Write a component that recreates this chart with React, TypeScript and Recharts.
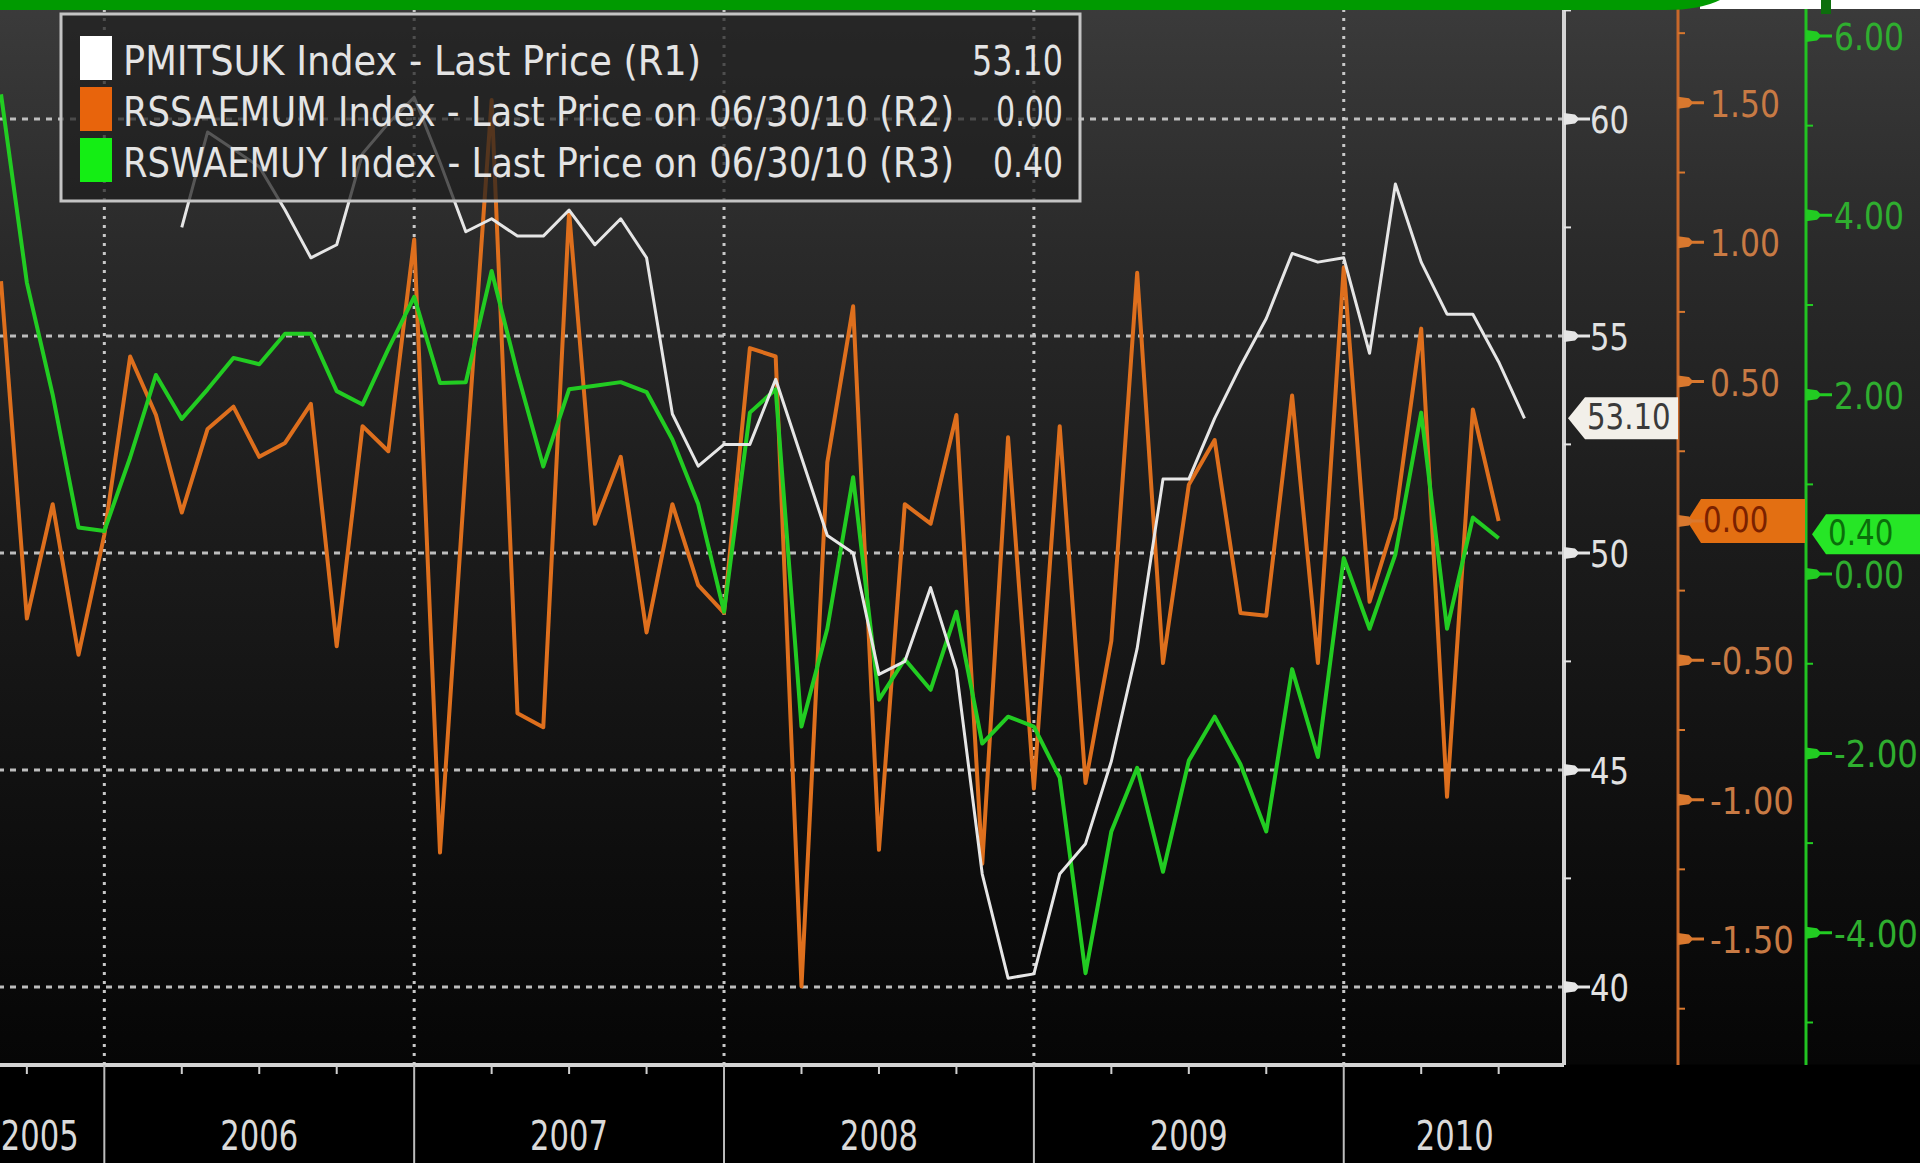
import { LineChart, Line, XAxis, YAxis, ReferenceLine, ReferenceDot } from "recharts";

// month-end observations, Aug 2005 .. Jul 2010
const months = [
  "2005-08", "2005-09", "2005-10", "2005-11", "2005-12",
  "2006-01", "2006-02", "2006-03", "2006-04", "2006-05", "2006-06", "2006-07", "2006-08", "2006-09", "2006-10", "2006-11", "2006-12",
  "2007-01", "2007-02", "2007-03", "2007-04", "2007-05", "2007-06", "2007-07", "2007-08", "2007-09", "2007-10", "2007-11", "2007-12",
  "2008-01", "2008-02", "2008-03", "2008-04", "2008-05", "2008-06", "2008-07", "2008-08", "2008-09", "2008-10", "2008-11", "2008-12",
  "2009-01", "2009-02", "2009-03", "2009-04", "2009-05", "2009-06", "2009-07", "2009-08", "2009-09", "2009-10", "2009-11", "2009-12",
  "2010-01", "2010-02", "2010-03", "2010-04", "2010-05", "2010-06", "2010-07",
];

// PMITSUK (R1)
const pmitsuk = [
  null, null, null, null, null,
  null, null, 57.5, 59.7, 59.3, 58.9, 57.9, 56.8, 57.1, 59.2, 59.9, 60.5,
  59.0, 57.4, 57.7, 57.3, 57.3, 57.9, 57.1, 57.7, 56.8, 53.2, 52.0, 52.5,
  52.5, 54.0, 52.2, 50.4, 50.0, 47.2, 47.5, 49.2, 47.3, 42.6, 40.2, 40.3,
  42.6, 43.3, 45.2, 47.8, 51.7, 51.7, 53.1, 54.3, 55.4, 56.9, 56.7, 56.8,
  54.6, 58.5, 56.7, 55.5, 55.5, 54.4, 53.1,
];

// RSSAEMUM (R2)
const rssaemum = [
  0.86, -0.35, 0.06, -0.48, -0.05,
  0.59, 0.38, 0.03, 0.33, 0.41, 0.23, 0.28, 0.42, -0.45, 0.34, 0.25, 1.01,
  -1.19, 0.2, 1.51, -0.69, -0.74, 1.11, -0.01, 0.23, -0.4, 0.06, -0.23, -0.33,
  0.62, 0.59, -1.67, 0.21, 0.77, -1.18, 0.06, -0.01, 0.38, -1.23, 0.3, -0.96,
  0.34, -0.94, -0.43, 0.89, -0.51, 0.13, 0.29, -0.33, -0.34, 0.45, -0.51, 0.91,
  -0.29, 0.01, 0.69, -0.99, 0.4, 0.0, null,
];

// RSWAEMUY (R3)
const rswaemuy = [
  5.35, 3.25, 2.0, 0.52, 0.48,
  1.3, 2.22, 1.73, 2.06, 2.41, 2.34, 2.68, 2.68, 2.04, 1.89, 2.51, 3.09,
  2.13, 2.14, 3.38, 2.24, 1.2, 2.06, 2.1, 2.14, 2.03, 1.5, 0.78, -0.42,
  1.8, 2.06, -1.7, -0.61, 1.08, -1.4, -0.95, -1.29, -0.42, -1.89, -1.59, -1.7,
  -2.27, -4.45, -2.87, -2.16, -3.32, -2.08, -1.59, -2.12, -2.87, -1.06, -2.04, 0.18,
  -0.61, 0.22, 1.8, -0.61, 0.63, 0.4, null,
];

const legendNames = [
  "PMITSUK Index - Last Price (R1)",
  "RSSAEMUM Index - Last Price on 06/30/10 (R2)",
  "RSWAEMUY Index - Last Price on 06/30/10 (R3)",
];
const legendValues = ["53.10", "0.00", "0.40"];

// x axis: month index (2005-01 = 1)
const years = ["2005", "2006", "2007", "2008", "2009", "2010"];
const yearMid = [9.5, 18, 30, 42, 54, 64.3];
const yearStarts = [12, 24, 36, 48, 60];
const quarterEnds = [9, 15, 18, 21, 27, 30, 33, 39, 42, 45, 51, 54, 57, 63, 66];

const r1Labels = [40, 45, 50, 55, 60];
const r1Minor = [42.5, 47.5, 52.5, 57.5, 62.5];
const r2Labels = [-1.5, -1, -0.5, 0, 0.5, 1, 1.5];
const r2Minor = [-1.75, -1.25, -0.75, -0.25, 0.25, 0.75, 1.25, 1.75];
const r3Labels = [-4, -2, 0, 2, 4, 6];
const r3Minor = [-5, -3, -1, 1, 3, 5];

const X_DOMAIN = [7.96, 68.53];
const R1_DOMAIN = [38.2, 62.74];
const R2_DOMAIN = [-1.952, 1.869];
const R3_DOMAIN = [-5.474, 6.401];

const W = 1920;
const H = 1163;
const X_AXIS_H = 98;
const R1_W = 114;
const R2_W = 128;
const R3_W = 114;
const FONT = "'DejaVu Sans', Verdana, sans-serif";

const ORANGE = "#de6f1d";
const GREEN = "#22cc22";
const WHITE = "#e6e6e6";

const monthIndex = (m: string) => (Number(m.slice(0, 4)) - 2005) * 12 + Number(m.slice(5, 7));

const data = months.map((m, i) => ({
  t: monthIndex(m),
  pmi: pmitsuk[i],
  mom: rssaemum[i],
  yoy: rswaemuy[i],
}));

const lastOf = (arr: (number | null)[]) => {
  const v = arr.filter((d) => d !== null) as number[];
  return v[v.length - 1];
};

const xTicks = Array.from(new Set([...quarterEnds, ...yearStarts, ...yearMid])).sort((a, b) => a - b);

const textW = (s: string) =>
  s.split("").reduce((a, c) => a + (c === "." ? 11 : c === "-" ? 14 : 20), 0);

// tall, narrow text like the terminal font
function SText({ x, y, size, sy, len, anchor, fill, children }: any) {
  return (
    <text
      transform={`translate(${x},${y}) scale(1,${sy})`}
      x={0}
      y={0}
      fill={fill}
      fontSize={size}
      fontFamily={FONT}
      textAnchor={anchor || "start"}
      textLength={len}
      lengthAdjust="spacingAndGlyphs"
    >
      {children}
    </text>
  );
}

function Flag({ x, y, color }: { x: number; y: number; color: string }) {
  const d = `M${x},${y - 6} L${x + 11},${y - 4.5} L${x + 14},${y - 1.5} L${x + 26},${y - 1.5} L${x + 26},${y + 1.5} L${x + 14},${y + 1.5} L${x + 11},${y + 4.5} L${x},${y + 6} Z`;
  return <path d={d} fill={color} />;
}

function makeYTick(
  labels: number[],
  fmt: (v: number) => string,
  color: string,
  textColor: string,
  gap: number,
  hidden: number[] = []
) {
  return (p: any) => {
    const { x, y, payload } = p;
    const v = payload.value as number;
    if (!labels.includes(v)) {
      return <line x1={x} x2={x + 7} y1={y} y2={y} stroke={color} strokeWidth={2} />;
    }
    const s = fmt(v);
    return (
      <g>
        <Flag x={x} y={y} color={color} />
        {!hidden.includes(v) && (
          <SText x={x + gap} y={y + 14} size={32} sy={1.16} len={textW(s) - 1} fill={textColor}>
            {s}
          </SText>
        )}
      </g>
    );
  };
}

function XTick(p: any) {
  const { x, y, payload } = p;
  const v = payload.value as number;
  const li = yearMid.indexOf(v);
  return (
    <g>
      {yearStarts.includes(v) && <line x1={x} x2={x} y1={y} y2={y + X_AXIS_H} stroke="#bdbdbd" strokeWidth={2} />}
      {quarterEnds.includes(v) && <line x1={x} x2={x} y1={y} y2={y + 9} stroke="#d0d0d0" strokeWidth={2} />}
      {li >= 0 && (
        <SText x={x} y={y + 85} size={34} sy={1.2} len={78} anchor="middle" fill="#dadada">
          {years[li]}
        </SText>
      )}
    </g>
  );
}

function ValueTag(props: any) {
  const { cx, cy, tip, start, end, fill, color, label, h, dy = 0 } = props;
  const x0 = cx + tip;
  const x1 = cx + start;
  const x2 = cx + end;
  const c = cy + dy;
  const d = `M${x0},${c} L${x1},${c - h / 2} L${x2},${c - h / 2} L${x2},${c + h / 2} L${x1},${c + h / 2} Z`;
  return (
    <g>
      <path d={d} fill={fill} />
      <SText x={x1 + 2} y={c + 11} size={29} sy={1.2} len={textW(label) * 0.92} fill={color}>
        {label}
      </SText>
    </g>
  );
}

function Overlay() {
  const swatch = ["#ffffff", "#e8640c", "#14ee14"];
  const rowBase = [75, 126, 177];
  const nameW = [578, 831, 831];
  const valueW = [91, 67, 70];
  return (
    <svg width={W} height={H} style={{ position: "absolute", left: 0, top: 0, pointerEvents: "none" }}>
      {/* top bar */}
      <rect x={1700} y={0} width={220} height={9} fill="#ffffff" />
      <path d="M0,0 H1720 Q1700,10 1666,10 H0 Z" fill="#009a00" />
      <rect x={1821} y={0} width={10} height={14} fill="#0d6e0d" />

      {/* legend */}
      <rect x={61} y={14} width={1019} height={187} fill="rgba(30,30,30,0.72)" stroke="#c4c4c4" strokeWidth={3} />
      {legendNames.map((n, i) => (
        <g key={n}>
          <rect x={80} y={rowBase[i] - 39} width={32} height={44} fill={swatch[i]} />
          <SText x={123} y={rowBase[i]} size={35} sy={1.17} len={nameW[i]} fill="#e4e4e4">
            {n}
          </SText>
          <SText x={1063} y={rowBase[i]} size={32} sy={1.28} len={valueW[i]} anchor="end" fill="#e4e4e4">
            {legendValues[i]}
          </SText>
        </g>
      ))}
    </svg>
  );
}

export default function App() {
  const xMax = X_DOMAIN[1];
  return (
    <div
      style={{
        position: "absolute",
        left: 0,
        top: 0,
        width: W,
        height: H,
        overflow: "hidden",
        background:
          "linear-gradient(to bottom, #3b3b3b 0px, #2a2a2a 250px, #1c1c1c 520px, #0e0e0e 850px, #060606 1064px, #000 1065px, #000 1163px)",
      }}
    >
      <LineChart width={W} height={H} data={data} margin={{ top: 0, right: 0, bottom: 0, left: 0 }}>
        <XAxis
          dataKey="t"
          type="number"
          domain={X_DOMAIN}
          allowDataOverflow
          ticks={xTicks}
          interval={0}
          tickSize={0}
          tickMargin={0}
          height={X_AXIS_H}
          axisLine={{ stroke: "#d4d4d4", strokeWidth: 4 }}
          tickLine={false}
          tick={(p: any) => <XTick {...p} />}
        />
        <YAxis
          yAxisId="r1"
          orientation="right"
          type="number"
          domain={R1_DOMAIN}
          allowDataOverflow
          ticks={[...r1Labels, ...r1Minor].sort((a, b) => a - b)}
          interval={0}
          width={R1_W}
          tickSize={0}
          tickMargin={0}
          axisLine={{ stroke: "#d4d4d4", strokeWidth: 4 }}
          tickLine={false}
          tick={makeYTick(r1Labels, (v) => String(v), "#e6e6e6", "#e2e2e2", 26)}
        />
        <YAxis
          yAxisId="r2"
          orientation="right"
          type="number"
          domain={R2_DOMAIN}
          allowDataOverflow
          ticks={[...r2Labels, ...r2Minor].sort((a, b) => a - b)}
          interval={0}
          width={R2_W}
          tickSize={0}
          tickMargin={0}
          axisLine={{ stroke: "#c8682a", strokeWidth: 3 }}
          tickLine={false}
          tick={makeYTick(r2Labels, (v) => v.toFixed(2), "#d9782e", "#c87a44", 32, [lastOf(rssaemum)])}
        />
        <YAxis
          yAxisId="r3"
          orientation="right"
          type="number"
          domain={R3_DOMAIN}
          allowDataOverflow
          ticks={[...r3Labels, ...r3Minor].sort((a, b) => a - b)}
          interval={0}
          width={R3_W}
          tickSize={0}
          tickMargin={0}
          axisLine={{ stroke: "#22c322", strokeWidth: 3 }}
          tickLine={false}
          tick={makeYTick(r3Labels, (v) => v.toFixed(2), "#22cc22", "#2fae2f", 28)}
        />

        {r1Labels.map((v) => (
          <ReferenceLine key={"h" + v} y={v} yAxisId="r1" stroke="#bdbdbd" strokeWidth={3} strokeDasharray="6 6" />
        ))}
        {yearStarts.map((v) => (
          <ReferenceLine key={"v" + v} x={v} yAxisId="r1" stroke="#c8c8c8" strokeWidth={3} strokeDasharray="3 6" />
        ))}

        <Line
          yAxisId="r2"
          dataKey="mom"
          type="linear"
          stroke={ORANGE}
          strokeWidth={4}
          strokeLinejoin="round"
          dot={false}
          activeDot={false}
          isAnimationActive={false}
        />
        <Line
          yAxisId="r3"
          dataKey="yoy"
          type="linear"
          stroke={GREEN}
          strokeWidth={4}
          strokeLinejoin="round"
          dot={false}
          activeDot={false}
          isAnimationActive={false}
        />
        <Line
          yAxisId="r1"
          dataKey="pmi"
          type="linear"
          stroke={WHITE}
          strokeWidth={3}
          strokeLinejoin="round"
          dot={false}
          activeDot={false}
          isAnimationActive={false}
        />

        <ReferenceDot
          x={xMax}
          y={lastOf(pmitsuk)}
          yAxisId="r1"
          ifOverflow="visible"
          shape={(p: any) => (
            <ValueTag {...p} tip={4} start={21} end={R1_W} h={42} fill="#f2efe9" color="#3a3a3a" label={lastOf(pmitsuk).toFixed(2)} />
          )}
        />
        <ReferenceDot
          x={xMax}
          y={lastOf(rssaemum)}
          yAxisId="r2"
          ifOverflow="visible"
          shape={(p: any) => (
            <ValueTag {...p} tip={R1_W + 9} start={R1_W + 23} end={R1_W + R2_W - 1} h={44} fill="#e36f12" color="#7a2100" label={lastOf(rssaemum).toFixed(2)} />
          )}
        />
        <ReferenceDot
          x={xMax}
          y={lastOf(rswaemuy)}
          yAxisId="r3"
          ifOverflow="visible"
          shape={(p: any) => (
            <ValueTag {...p} dy={-4} tip={R1_W + R2_W + 6} start={R1_W + R2_W + 20} end={R1_W + R2_W + R3_W} h={40} fill="#26e626" color="#0b6e0b" label={lastOf(rswaemuy).toFixed(2)} />
          )}
        />
      </LineChart>
      <Overlay />
    </div>
  );
}
